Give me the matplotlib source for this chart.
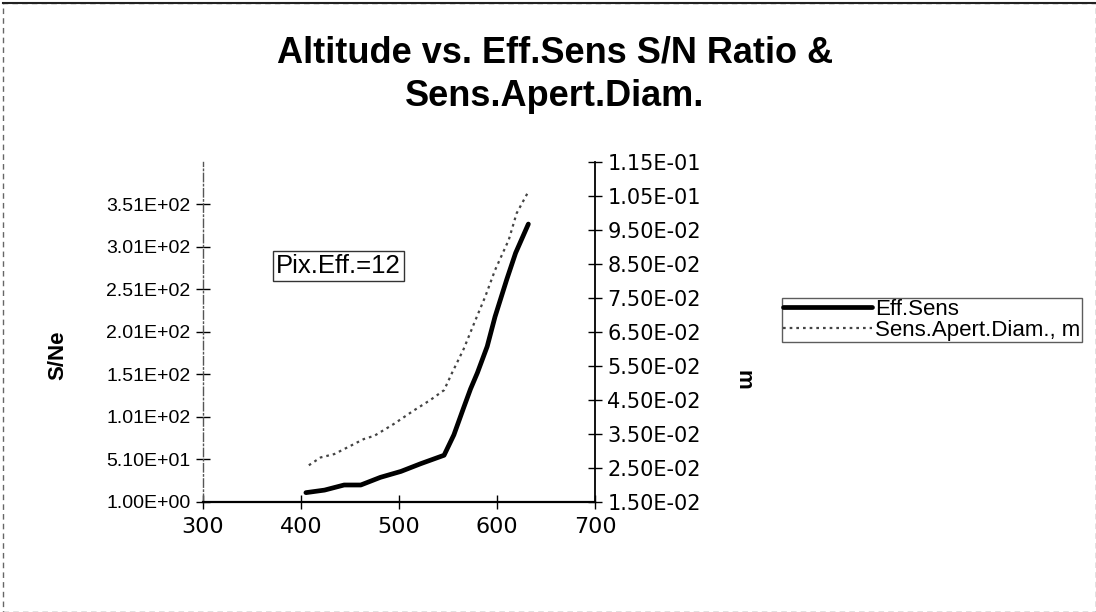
import matplotlib
matplotlib.use("Agg")
import matplotlib.pyplot as plt
from matplotlib.ticker import FixedLocator, FuncFormatter
from matplotlib.patches import Rectangle

plt.rcParams['font.family'] = ['Liberation Sans', 'DejaVu Sans']

# ---- data ----
alt_sn = [405, 424, 444, 461, 481, 502, 522, 546, 556, 566, 573, 580, 590, 598, 610, 619, 632]
eff_sens = [12, 15, 21, 21, 30, 37, 46, 56, 80, 112, 134, 153, 184, 219, 263, 294, 328]

alt_d = [408, 420, 434, 447, 464, 475, 495, 515, 532, 546, 554, 566, 578, 588, 598, 612, 620, 632]
apert_diam = [0.0258, 0.0281, 0.0291, 0.0310, 0.0335, 0.0345, 0.0380, 0.0419, 0.0450, 0.0479,
              0.0529, 0.0600, 0.0685, 0.0754, 0.0832, 0.0921, 0.0999, 0.1063]

x_ticks = [300, 400, 500, 600, 700]
left_ticks = [1, 51, 101, 151, 201, 251, 301, 351]
right_ticks = [0.015, 0.025, 0.035, 0.045, 0.055, 0.065, 0.075, 0.085, 0.095, 0.105, 0.115]

title = "Altitude vs. Eff.Sens S/N Ratio &\nSens.Apert.Diam."

# ---- figure ----
W, H = 1096, 612
fig = plt.figure(figsize=(W / 100, H / 100), dpi=100)
fig.patch.set_facecolor('white')

ax = fig.add_axes([203 / W, 1 - 502 / H, (595 - 203) / W, (502 - 162) / H])
ax2 = ax.twinx()

ax.plot(alt_sn, eff_sens, color='black', lw=3.4, solid_capstyle='round', label='Eff.Sens')
ax2.plot(alt_d, apert_diam, color='#444444', lw=1.6, linestyle=(0, (1.2, 1.8)),
         label='Sens.Apert.Diam., m')

ax.set_xlim(300, 700)
ax.set_ylim(1, 401)
ax2.set_ylim(0.015, 0.115)

ax.xaxis.set_major_locator(FixedLocator(x_ticks))
ax.yaxis.set_major_locator(FixedLocator(left_ticks))
ax2.yaxis.set_major_locator(FixedLocator(right_ticks))
ax.yaxis.set_major_formatter(FuncFormatter(lambda v, p: f"{v:.2E}"))
ax2.yaxis.set_major_formatter(FuncFormatter(lambda v, p: f"{v:.2E}"))

for a in (ax, ax2):
    for s in a.spines.values():
        s.set_visible(False)
ax.spines['bottom'].set_visible(True)
ax.spines['left'].set_visible(True)
ax2.spines['right'].set_visible(True)
ax.spines['bottom'].set_linewidth(1.6)
ax.spines['left'].set_linewidth(1.0)
ax.spines['left'].set_linestyle((0, (6, 2, 1, 2)))
ax.spines['left'].set_color('#555555')
ax2.spines['right'].set_linewidth(1.3)

ax.tick_params(axis='x', direction='inout', length=10, width=1.0, pad=6,
               labelsize=16, labelfontfamily='DejaVu Sans')
ax.tick_params(axis='y', direction='inout', length=10, width=1.0, labelsize=14, pad=4)
ax2.tick_params(axis='y', direction='inout', length=10, width=1.0, pad=4,
                labelsize=15, labelfontfamily='DejaVu Sans')
ax.patch.set_visible(False)

fig.text(58 / W, 1 - 355 / H, "S/Ne", rotation=90, ha='center', va='center',
         fontsize=16, fontweight='bold')
fig.text(743 / W, 1 - 380 / H, "m", rotation=-90, ha='center', va='center',
         fontsize=16, fontweight='bold')

fig.text(555 / W, 1 - 75 / H, title, ha='center', va='center', fontsize=26,
         fontweight='bold', linespacing=1.33)

fig.text(276 / W, 1 - 266 / H, "Pix.Eff.=12", ha='left', va='center', fontsize=18.5,
         bbox=dict(boxstyle='square,pad=0.12', facecolor='white', edgecolor='#333333', lw=1.0))

h1, l1 = ax.get_legend_handles_labels()
h2, l2 = ax2.get_legend_handles_labels()
leg = fig.legend(h1 + h2, l1 + l2, loc='upper left', bbox_to_anchor=(782 / W, 1 - 298 / H),
                 bbox_transform=fig.transFigure, fontsize=16, frameon=True, fancybox=False,
                 handlelength=4.0, handletextpad=0.15, borderpad=0.05, labelspacing=0.0,
                 borderaxespad=0)
leg.get_frame().set_edgecolor('#333333')
leg.get_frame().set_linewidth(1.0)

# outer border of the chart area
fig.add_artist(Rectangle((3 / W, 0), 1 - 3 / W, 1 - 3 / H, transform=fig.transFigure,
                         fill=False, edgecolor='#666666', lw=1.0, linestyle=(0, (4, 3))))
fig.add_artist(plt.Line2D([3 / W, 1], [1 - 3 / H, 1 - 3 / H], transform=fig.transFigure,
                          color='#222222', lw=1.5))

fig.savefig("out.png", dpi=100, facecolor='white')
